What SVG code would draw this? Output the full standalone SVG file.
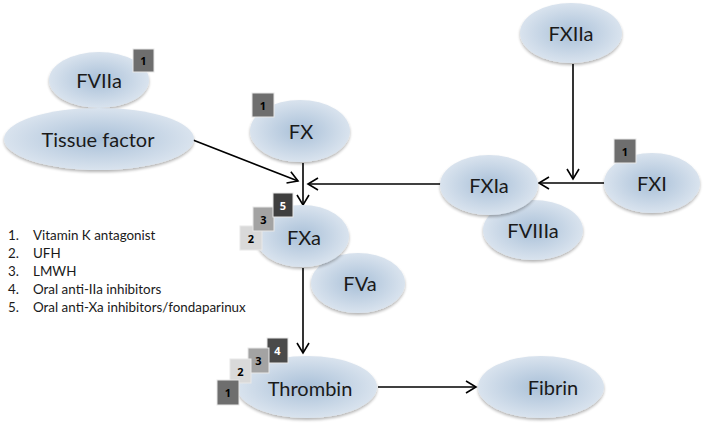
<svg xmlns="http://www.w3.org/2000/svg" width="709" height="425" viewBox="0 0 709 425">
<defs>
<radialGradient id="g" cx="50%" cy="50%" r="50%">
<stop offset="0" stop-color="#a9c0d8"/>
<stop offset="1" stop-color="#d9e3ee"/>
</radialGradient>
<filter id="sh" x="-10%" y="-10%" width="120%" height="130%">
<feGaussianBlur in="SourceAlpha" stdDeviation="1.5"/>
<feOffset dy="2"/>
<feComponentTransfer><feFuncA type="linear" slope="0.3"/></feComponentTransfer>
<feMerge><feMergeNode/><feMergeNode in="SourceGraphic"/></feMerge>
</filter>
<marker id="ah" markerWidth="14" markerHeight="14" refX="12" refY="7" orient="auto" markerUnits="userSpaceOnUse">
<path d="M2,1 L12,7 L2,13" fill="none" stroke="#000" stroke-width="1.6"/>
</marker>
</defs>
<style>
.n ellipse{fill:url(#g);filter:url(#sh)}
.n text{font-family:Lato,"Open Sans",sans-serif;font-size:20px;fill:#1a1a1a;text-anchor:middle;dominant-baseline:central}
.b rect{stroke:#e8e8e8;stroke-width:1}
.b text{font-family:"Open Sans",sans-serif;font-weight:bold;font-size:11px;text-anchor:middle;dominant-baseline:central}
.c line{stroke:#000;stroke-width:1.6;marker-end:url(#ah)}
.lg text{font-family:Lato,"Open Sans",sans-serif;font-size:13.4px;fill:#1a1a1a}
</style>
<rect width="709" height="425" fill="#fff"/>
<g id="connectors" class="c">
<line x1="193" y1="140" x2="298" y2="181"/>
<line x1="303" y1="163" x2="303" y2="205"/>
<line x1="442" y1="184" x2="308" y2="184"/>
<line x1="573" y1="64" x2="573" y2="179"/>
<line x1="605" y1="183" x2="539" y2="183"/>
<line x1="303" y1="268" x2="303" y2="353"/>
<line x1="378" y1="387" x2="476" y2="387"/>
</g>
<g id="fxiia" class="n"><ellipse cx="571" cy="33" rx="51" ry="30"/><text x="571" y="33">FXIIa</text></g>
<g id="fviiia" class="n"><ellipse cx="533" cy="230" rx="50" ry="30"/><text x="533" y="230">FVIIIa</text></g>
<g id="fxia" class="n"><ellipse cx="489" cy="185" rx="49" ry="30"/><text x="489" y="185">FXIa</text></g>
<g id="fxi" class="n"><ellipse cx="652" cy="183" rx="48" ry="30"/><text x="652" y="183">FXI</text></g>
<g id="fviia" class="n"><ellipse cx="99" cy="80" rx="50" ry="28"/><text x="99" y="80">FVIIa</text></g>
<g id="tissue" class="n"><ellipse cx="99" cy="139" rx="95" ry="31"/><text x="98" y="139">Tissue factor</text></g>
<g id="fx" class="n"><ellipse cx="300" cy="131" rx="50" ry="31"/><text x="301" y="131">FX</text></g>
<g id="fva" class="n"><ellipse cx="358" cy="283" rx="47" ry="30"/><text x="360" y="283">FVa</text></g>
<g id="fxa" class="n"><ellipse cx="302" cy="236" rx="47" ry="31"/><text x="304" y="237">FXa</text></g>
<g id="thrombin" class="n"><ellipse cx="307" cy="387" rx="70" ry="31"/><text x="310" y="388">Thrombin</text></g>
<g id="fibrin" class="n"><ellipse cx="541" cy="387" rx="63" ry="31"/><text x="553" y="387">Fibrin</text></g>
<g id="badges" class="b">
<rect x="133" y="49" width="21" height="23" fill="#6e6e6e"/><text x="143.5" y="60.5" fill="#000">1</text>
<rect x="252" y="93" width="22" height="24" fill="#6e6e6e"/><text x="263" y="105" fill="#000">1</text>
<rect x="614" y="139" width="22" height="24" fill="#6e6e6e"/><text x="625" y="151" fill="#000">1</text>
<rect x="240" y="226" width="22" height="24" fill="#d9d9d9"/><text x="251" y="238" fill="#000">2</text>
<rect x="253" y="207" width="21" height="24" fill="#a3a3a3"/><text x="263.5" y="219" fill="#000">3</text>
<rect x="273" y="193" width="20" height="24" fill="#3f3f3f"/><text x="283" y="205" fill="#fff">5</text>
<rect x="267" y="338" width="21" height="25" fill="#4a4a4a"/><text x="277.5" y="350.5" fill="#fff">4</text>
<rect x="248" y="348" width="21" height="25" fill="#a3a3a3"/><text x="258.5" y="360.5" fill="#000">3</text>
<rect x="230" y="359" width="21" height="24" fill="#d9d9d9"/><text x="240.5" y="371" fill="#000">2</text>
<rect x="217" y="380" width="22" height="25" fill="#6e6e6e"/><text x="228" y="392.5" fill="#000">1</text>
</g>
<g id="legend" class="lg">
<text x="8" y="240">1.</text><text x="33" y="240">Vitamin K antagonist</text>
<text x="8" y="258">2.</text><text x="33" y="258">UFH</text>
<text x="8" y="276">3.</text><text x="33" y="276">LMWH</text>
<text x="8" y="294">4.</text><text x="33" y="294">Oral anti-IIa inhibitors</text>
<text x="8" y="312">5.</text><text x="33" y="312">Oral anti-Xa inhibitors/fondaparinux</text>
</g>
</svg>
